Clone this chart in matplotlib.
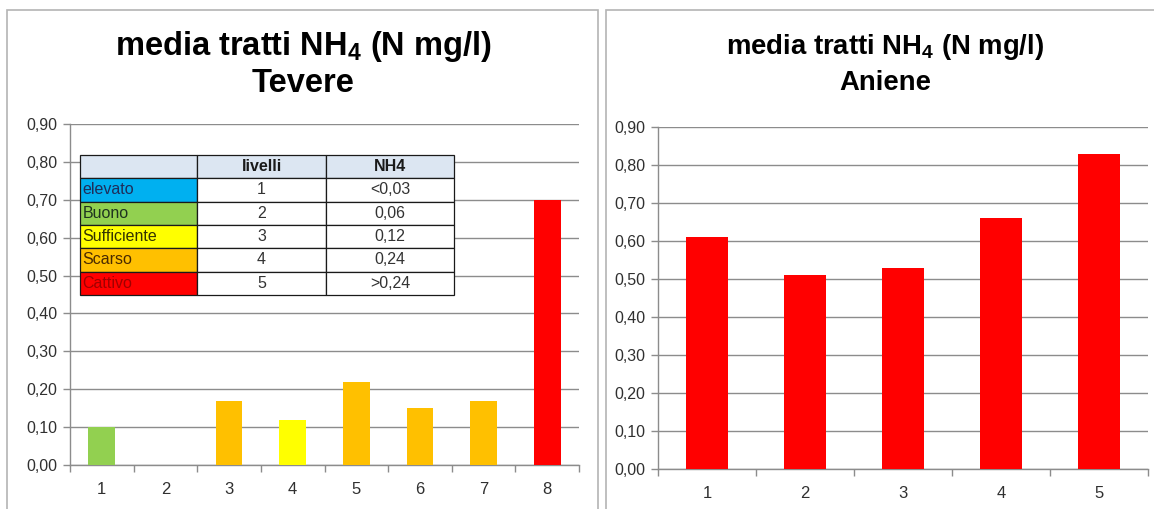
import matplotlib
matplotlib.use("Agg")
import matplotlib.pyplot as plt
from matplotlib.patches import Rectangle

plt.rcParams['font.family'] = ['Liberation Sans', 'DejaVu Sans']
plt.rcParams['mathtext.fontset'] = 'custom'
plt.rcParams['mathtext.rm'] = 'Liberation Sans'
plt.rcParams['mathtext.bf'] = 'Liberation Sans:bold'

# Tevere: mean NH4 per stretch
tevere_labels = ['1', '2', '3', '4', '5', '6', '7', '8']
tevere_values = [0.10, 0.00, 0.17, 0.12, 0.22, 0.15, 0.17, 0.70]
tevere_colors = ['#92d050', '#ffc000', '#ffc000', '#ffff00',
                 '#ffc000', '#ffc000', '#ffc000', '#ff0000']

# Aniene: mean NH4 per stretch
aniene_labels = ['1', '2', '3', '4', '5']
aniene_values = [0.61, 0.51, 0.53, 0.66, 0.83]
aniene_colors = ['#ff0000'] * 5

# Quality classes table
table_header = ['', 'livelli', 'NH4']
class_names = ['elevato', 'Buono', 'Sufficiente', 'Scarso', 'Cattivo']
class_levels = ['1', '2', '3', '4', '5']
class_limits = ['<0,03', '0,06', '0,12', '0,24', '>0,24']
class_colors = ['#00b0f0', '#92d050', '#ffff00', '#ffc000', '#ff0000']
class_text_colors = ['#1f2d5a', '#1f3320', '#333300', '#4a2a00', '#a00000']

yticks = [0.0, 0.1, 0.2, 0.3, 0.4, 0.5, 0.6, 0.7, 0.8, 0.9]

W, H = 1154, 509
fig = plt.figure(figsize=(W / 100, H / 100), dpi=100)
fig.patch.set_facecolor('white')

# Panel frames
for (x0, x1) in [(7, 598), (606, 1160)]:
    fig.add_artist(Rectangle((x0 / W, -0.05), (x1 - x0) / W, 1 - 10 / H + 0.05,
                             transform=fig.transFigure, fill=False,
                             edgecolor='#b4b4b4', linewidth=1.2))


def fmt(v):
    return f'{v:.2f}'.replace('.', ',')


def draw_panel(rect, labels, values, colors, river, title_x, title_size):
    ax = fig.add_axes(rect)
    n = len(values)
    x = list(range(1, n + 1))
    ax.bar(x, values, width=0.42, color=colors, zorder=3)
    ax.set_xlim(0.5, n + 0.5)
    ax.set_ylim(0, 0.9)
    ax.set_yticks(yticks)
    ax.set_yticklabels([fmt(v) for v in yticks], fontsize=11.5, color='#303030')
    ax.set_xticks(x)
    ax.set_xticklabels(labels, fontsize=12, color='#303030')
    ax.set_xticks([i + 0.5 for i in range(0, n + 1)], minor=True)
    ax.tick_params(axis='x', which='major', length=0, pad=12)
    ax.tick_params(axis='x', which='minor', length=5, color='#8c8c8c', width=1)
    ax.tick_params(axis='y', which='major', length=5, color='#8c8c8c', width=1, pad=4)
    ax.grid(axis='y', color='#8c8c8c', linewidth=1, zorder=0)
    ax.set_axisbelow(True)
    for s in ['top', 'right']:
        ax.spines[s].set_visible(False)
    for s in ['left', 'bottom']:
        ax.spines[s].set_color('#8c8c8c')
        ax.spines[s].set_linewidth(1)
    fig.text(title_x, 1 - 47 / H, r'media tratti NH$_\mathbf{4}$ (N mg/l)',
             ha='center', va='center', fontsize=title_size, fontweight='bold')
    fig.text(title_x, 1 - 83 / H, river, ha='center', va='center',
             fontsize=title_size, fontweight='bold')
    return ax


ax1 = draw_panel([70 / W, 1 - 465 / H, 509 / W, 341 / H],
                 tevere_labels, tevere_values, tevere_colors, 'Tevere', 303 / W, 23.5)
ax2 = draw_panel([658 / W, 1 - 469 / H, 490 / W, 342 / H],
                 aniene_labels, aniene_values, aniene_colors, 'Aniene', 885 / W, 19.8)

# Legend table of quality classes
cells = [table_header] + [[a, b, c] for a, b, c in zip(class_names, class_levels, class_limits)]
cell_colours = [['#dce6f2'] * 3] + [[c, 'white', 'white'] for c in class_colors]
tab = ax1.table(cellText=cells, cellColours=cell_colours,
                colWidths=[0.313, 0.345, 0.342],
                bbox=[(80 - 70) / 509, (465 - 295) / 341, 374 / 509, 140 / 341],
                zorder=5)
tab.auto_set_font_size(False)
for (r, c), cell in tab.get_celld().items():
    cell.set_edgecolor('#1a1a1a')
    cell.set_linewidth(0.9)
    txt = cell.get_text()
    txt.set_fontsize(11.5)
    if c == 0:
        cell._loc = 'left'
        txt.set_ha('left')
        cell.PAD = 0.02
        if r > 0:
            txt.set_color(class_text_colors[r - 1])
    else:
        txt.set_ha('center')
        txt.set_color('#333333')
    if r == 0:
        txt.set_fontweight('bold')
        txt.set_color('#1a1a1a')

fig.savefig('out.png', dpi=100, facecolor='white')
